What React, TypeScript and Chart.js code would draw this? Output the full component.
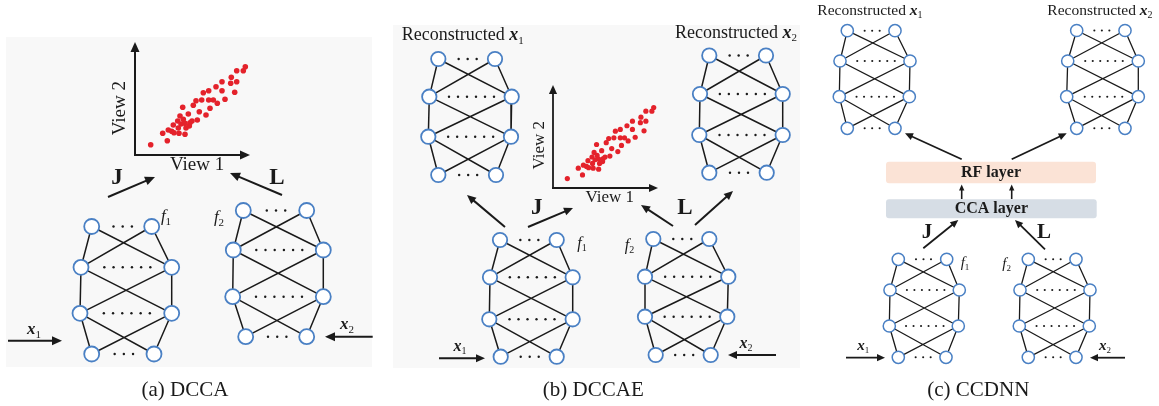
import { useEffect, useRef } from 'react';
import { Chart, registerables } from 'chart.js';

Chart.register(...registerables);

const W = 1159;
const H = 406;
const SERIF = '"Liberation Serif", "Times New Roman", Times, serif';
const INK = '#1a1a1a';
const NODE_BLUE = '#4a80c4';
const SAMPLE_RED = '#e4222b';

// Correlated samples plotted on the "View 1" / "View 2" axes
const viewOne = [15.7, 32.3, 27.7, 33.3, 36.7, 39, 44, 43.3, 38.3, 42.7, 45, 47.7, 48.3, 50, 51, 54.3, 55, 53.3, 57, 62.3, 64.3, 58.3, 61, 66.7, 68.3, 73.7, 73.7, 78.3, 75, 71, 81, 82.3, 87, 87, 90, 96.3, 95.7, 101.7, 99.7, 101.7, 108.3, 110.3, 50, 46];
const viewTwo = [10.3, 14.3, 21.7, 25, 23.7, 22.3, 21.7, 27, 30, 34, 39, 47.7, 35.7, 31.7, 27, 29, 32.3, 41, 34, 35, 43.3, 49.7, 54.3, 55, 62.3, 64.3, 55, 55, 46.7, 40, 68.3, 51.7, 73.3, 64.3, 55.7, 77.7, 71.7, 73.3, 62.7, 84.3, 84.3, 88.3, 20.7, 31];
const viewOneMax = 115;
const viewTwoMax = 113;

// Network layers, one row per layer: [left node x, right node x, layer y]
const dccaNet1 = [[91.7, 151.7, 226.5], [81, 171.7, 267.3], [80, 171.7, 313.3], [91.7, 154, 354]];
const dccaNet2 = [[243.3, 306.7, 210.5], [233.3, 323.3, 250], [232.7, 323.3, 296.7], [245.7, 306.7, 336.7]];
const dccaeRecon1 = [[438.3, 495, 59], [429.3, 511.7, 96.7], [428.3, 511, 136.7], [438.3, 496, 175]];
const dccaeRecon2 = [[709.3, 766, 55.5], [700, 782.7, 94], [699.3, 782.7, 135], [709.3, 766.7, 172.7]];
const dccaeNet1 = [[500, 556.7, 240], [490, 572.7, 277.3], [489.3, 572.7, 319.3], [500.7, 556.7, 356.7]];
const dccaeNet2 = [[653.3, 709.3, 239], [645, 728.3, 276.7], [645, 727.3, 316.7], [655.7, 710.7, 355]];
const ccdnnRecon1 = [[847.3, 895, 30.7], [840, 910, 61], [839.3, 909.3, 96.7], [847.3, 895, 128.3]];
const ccdnnRecon2 = [[1076.7, 1125, 30.5], [1067.7, 1138.3, 61], [1066.7, 1138.3, 96.7], [1076.7, 1125, 128.3]];
const ccdnnNet1 = [[898.3, 946.7, 259.3], [890, 959.3, 290], [889.3, 958.3, 326], [898.3, 946, 357.3]];
const ccdnnNet2 = [[1028.3, 1076, 259.3], [1020, 1090, 290], [1019.3, 1089.3, 326], [1028.3, 1076, 357.3]];

// [rows, node radius, ellipsis spacing, edge width]
const networks: [number[][], number, number, number][] = [
  [dccaNet1, 7.5, 9.2, 1.5],
  [dccaNet2, 7.5, 9.2, 1.5],
  [dccaeRecon1, 7.2, 9, 1.5],
  [dccaeRecon2, 7.2, 9, 1.5],
  [dccaeNet1, 7.2, 9, 1.5],
  [dccaeNet2, 7.2, 9, 1.5],
  [ccdnnRecon1, 6.1, 7.5, 1.3],
  [ccdnnRecon2, 6.1, 7.5, 1.3],
  [ccdnnNet1, 6.1, 7.5, 1.3],
  [ccdnnNet2, 6.1, 7.5, 1.3],
];

// [fromX, fromY, toX, toY, line width, head length]
const arrows = [
  [108, 197, 155, 177, 2, 10],
  [282, 195, 230, 173, 2, 10],
  [8, 340.7, 62, 340.7, 2, 10],
  [372.7, 336.7, 325, 336.7, 2, 10],
  [505, 227, 467, 195, 2, 9],
  [528, 227, 573, 208, 2, 9],
  [673, 226, 641, 205, 2, 9],
  [695, 225, 733, 191, 2, 9],
  [439, 358.3, 485, 358.3, 2, 9],
  [776, 355, 728, 355, 2, 9],
  [961.7, 159.3, 905, 133.3, 1.8, 8],
  [1011.7, 159.3, 1066.7, 133.3, 1.8, 8],
  [961.7, 199, 961.7, 184.5, 1.6, 6],
  [1011.7, 199, 1011.7, 184.5, 1.6, 6],
  [923.3, 248.3, 958.3, 220, 1.8, 8],
  [1045, 249.3, 1015, 220, 1.8, 8],
  [846, 357.7, 885, 357.7, 1.8, 8],
  [1125, 357.7, 1090, 357.7, 1.8, 8],
];

// Layer boxes: [left, top, right, bottom, fill, caption]
const layerBoxes: [number, number, number, number, string, string][] = [
  [886, 161.7, 1096, 183.3, '#fbe3d6', 'RF layer'],
  [886, 199.3, 1096.7, 218.3, '#d6dde5', 'CCA layer'],
];

// Light panel backdrops: [left, top, right, bottom]
const panelBacks = [
  [6, 37, 372, 367],
  [393, 25, 800, 368],
];

type Run = [string, string, number];
const font = (size: number, weight = 'normal', style = 'normal') => `${style} ${weight} ${size}px ${SERIF}`;
const plain = (t: string, size: number, weight = 'normal', style = 'normal'): Run[] => [[t, font(size, weight, style), 0]];
const sym = (base: string, idx: string, size: number, bold: boolean): Run[] => [
  [base, font(size, bold ? 'bold' : 'normal', 'italic'), 0],
  [idx, font(Math.round(size * 0.62)), size * 0.3],
];

const labels: { x: number; y: number; align: 'left' | 'center'; runs: Run[] }[] = [
  // (a)
  { x: 117, y: 178, align: 'center', runs: plain('J', 23, 'bold') },
  { x: 277, y: 178, align: 'center', runs: plain('L', 23, 'bold') },
  { x: 166, y: 217, align: 'center', runs: sym('f', '1', 17, false) },
  { x: 219, y: 218, align: 'center', runs: sym('f', '2', 17, false) },
  { x: 34, y: 330, align: 'center', runs: sym('x', '1', 17, true) },
  { x: 347, y: 325, align: 'center', runs: sym('x', '2', 17, true) },
  { x: 185, y: 390, align: 'center', runs: plain('(a) DCCA', 21) },
  // (b)
  { x: 401.7, y: 35.5, align: 'left', runs: [...plain('Reconstructed ', 18), ...sym('x', '1', 18, true)] },
  { x: 675, y: 33, align: 'left', runs: [...plain('Reconstructed ', 18), ...sym('x', '2', 18, true)] },
  { x: 536.7, y: 208.5, align: 'center', runs: plain('J', 23, 'bold') },
  { x: 685, y: 208.5, align: 'center', runs: plain('L', 23, 'bold') },
  { x: 582, y: 244, align: 'center', runs: sym('f', '1', 16, false) },
  { x: 629.5, y: 246, align: 'center', runs: sym('f', '2', 16, false) },
  { x: 460, y: 346.5, align: 'center', runs: sym('x', '1', 16, true) },
  { x: 746, y: 343.5, align: 'center', runs: sym('x', '2', 16, true) },
  { x: 593.3, y: 390, align: 'center', runs: plain('(b) DCCAE', 21) },
  // (c)
  { x: 817.3, y: 10.5, align: 'left', runs: [...plain('Reconstructed ', 15.5), ...sym('x', '1', 15.5, true)] },
  { x: 1047.3, y: 10.5, align: 'left', runs: [...plain('Reconstructed ', 15.5), ...sym('x', '2', 15.5, true)] },
  { x: 927, y: 232.5, align: 'center', runs: plain('J', 21, 'bold') },
  { x: 1044, y: 232.5, align: 'center', runs: plain('L', 21, 'bold') },
  { x: 965, y: 263.5, align: 'center', runs: sym('f', '1', 15, false) },
  { x: 1006.7, y: 264.5, align: 'center', runs: sym('f', '2', 15, false) },
  { x: 863.3, y: 346.5, align: 'center', runs: sym('x', '1', 15, true) },
  { x: 1105, y: 346.5, align: 'center', runs: sym('x', '2', 15, true) },
  { x: 978.3, y: 390, align: 'center', runs: plain('(c) CCDNN', 21) },
];

function drawRuns(ctx: CanvasRenderingContext2D, runs: Run[], x: number, y: number, align: 'left' | 'center') {
  let total = 0;
  for (const [t, f] of runs) {
    ctx.font = f;
    total += ctx.measureText(t).width;
  }
  let cx = align === 'center' ? x - total / 2 : x;
  ctx.textBaseline = 'middle';
  ctx.textAlign = 'left';
  for (const [t, f, dy] of runs) {
    ctx.font = f;
    ctx.fillText(t, cx, y + dy);
    cx += ctx.measureText(t).width;
  }
}

function drawArrow(ctx: CanvasRenderingContext2D, x1: number, y1: number, x2: number, y2: number, lw: number, head: number) {
  const a = Math.atan2(y2 - y1, x2 - x1);
  const half = head * 0.45;
  ctx.strokeStyle = INK;
  ctx.fillStyle = INK;
  ctx.lineWidth = lw;
  ctx.lineCap = 'butt';
  ctx.beginPath();
  ctx.moveTo(x1, y1);
  ctx.lineTo(x2 - Math.cos(a) * head * 0.8, y2 - Math.sin(a) * head * 0.8);
  ctx.stroke();
  ctx.beginPath();
  ctx.moveTo(x2, y2);
  ctx.lineTo(x2 - Math.cos(a) * head - Math.sin(a) * half, y2 - Math.sin(a) * head + Math.cos(a) * half);
  ctx.lineTo(x2 - Math.cos(a) * head + Math.sin(a) * half, y2 - Math.sin(a) * head - Math.cos(a) * half);
  ctx.closePath();
  ctx.fill();
}

function edgesOf(rows: number[][]) {
  const pts: { x: number; y: number | null }[] = [];
  const seg = (ax: number, ay: number, bx: number, by: number) => {
    pts.push({ x: ax, y: ay }, { x: bx, y: by }, { x: bx, y: null });
  };
  for (let i = 0; i < rows.length - 1; i++) {
    const [l0, r0, y0] = rows[i];
    const [l1, r1, y1] = rows[i + 1];
    seg(l0, y0, l1, y1);
    seg(r0, y0, r1, y1);
    seg(l0, y0, r1, y1);
    seg(r0, y0, l1, y1);
  }
  return pts;
}

function nodesOf(rows: number[][]) {
  return rows.flatMap(([l, r, y]) => [{ x: l, y }, { x: r, y }]);
}

function ellipsesOf(rows: number[][], gap: number) {
  const pts: { x: number; y: number }[] = [];
  rows.forEach(([l, r, y], i) => {
    const n = i === 0 || i === rows.length - 1 ? 3 : 6;
    const mid = (l + r) / 2 + 1;
    for (let k = 0; k < n; k++) pts.push({ x: mid + (k - (n - 1) / 2) * gap, y });
  });
  return pts;
}

const diagramPlugin = {
  id: 'diagram',
  beforeDatasetsDraw(chart: any) {
    const { ctx } = chart;
    const X = (v: number) => chart.scales.x.getPixelForValue(v);
    const Y = (v: number) => chart.scales.y.getPixelForValue(v);
    ctx.save();
    ctx.fillStyle = '#f8f8f8';
    for (const [l, t, r, b] of panelBacks) ctx.fillRect(X(l), Y(t), X(r) - X(l), Y(b) - Y(t));
    for (const [l, t, r, b, fill, text] of layerBoxes) {
      ctx.fillStyle = fill;
      ctx.beginPath();
      ctx.roundRect(X(l), Y(t), X(r) - X(l), Y(b) - Y(t), 3);
      ctx.fill();
      ctx.fillStyle = INK;
      drawRuns(ctx, plain(text, 16, 'bold'), (X(l) + X(r)) / 2, (Y(t) + Y(b)) / 2 + 0.5, 'center');
    }
    ctx.restore();
  },
  afterDatasetsDraw(chart: any) {
    const { ctx } = chart;
    const X = (v: number) => chart.scales.x.getPixelForValue(v);
    const Y = (v: number) => chart.scales.y.getPixelForValue(v);
    ctx.save();
    for (const [x1, y1, x2, y2, lw, head] of arrows) drawArrow(ctx, X(x1), Y(y1), X(x2), Y(y2), lw, head);
    ctx.fillStyle = INK;
    for (const l of labels) drawRuns(ctx, l.runs, X(l.x), Y(l.y), l.align);
    ctx.restore();
  },
};

function makeDiagram(canvas: HTMLCanvasElement) {
  const datasets: any[] = [];
  for (const [rows, r, gap, lw] of networks) {
    datasets.push({
      data: edgesOf(rows),
      showLine: true,
      spanGaps: false,
      borderColor: INK,
      borderWidth: lw,
      pointRadius: 0,
      pointHoverRadius: 0,
      order: 2,
    });
    datasets.push({
      data: ellipsesOf(rows, gap),
      pointRadius: r > 7 ? 1.2 : 1.05,
      pointBorderWidth: 0,
      pointBackgroundColor: INK,
      pointBorderColor: INK,
      order: 1,
    });
    datasets.push({
      data: nodesOf(rows),
      pointRadius: r,
      pointBorderWidth: r > 7 ? 1.8 : 1.5,
      pointBackgroundColor: '#ffffff',
      pointBorderColor: NODE_BLUE,
      order: 0,
    });
  }
  return new Chart(canvas, {
    type: 'scatter',
    data: { datasets },
    options: {
      responsive: false,
      animation: false,
      events: [],
      layout: { padding: 0, autoPadding: false },
      plugins: { legend: { display: false }, tooltip: { enabled: false } },
      scales: {
        x: { type: 'linear', min: 0, max: W, display: false },
        y: { type: 'linear', min: 0, max: H, reverse: true, display: false },
      },
    } as any,
    plugins: [diagramPlugin],
  });
}

const viewAxesPlugin = {
  id: 'viewAxes',
  beforeDatasetsDraw(chart: any, _args: any, opts: any) {
    const { ctx, chartArea: a } = chart;
    const w = a.right - a.left;
    const h = a.bottom - a.top;
    ctx.save();
    drawArrow(ctx, a.left, a.bottom + opts.lineWidth / 2, a.left, a.top, opts.lineWidth, opts.head);
    drawArrow(ctx, a.left - opts.lineWidth / 2, a.bottom, a.right, a.bottom, opts.lineWidth, opts.head);
    ctx.fillStyle = INK;
    drawRuns(ctx, plain('View 1', opts.fontSize), a.left + 0.54 * w, a.bottom + 0.088 * h, 'center');
    ctx.translate(a.left - 0.13 * w, a.top + 0.585 * h);
    ctx.rotate(-Math.PI / 2);
    drawRuns(ctx, plain('View 2', opts.fontSize), 0, 0, 'center');
    ctx.restore();
  },
};

function makeViewPlot(canvas: HTMLCanvasElement, padding: any, radius: number, fontSize: number, lineWidth: number, head: number) {
  return new Chart(canvas, {
    type: 'scatter',
    data: {
      datasets: [
        {
          data: viewOne.map((v, i) => ({ x: v, y: viewTwo[i] })),
          pointRadius: radius,
          pointBorderWidth: 0,
          pointBackgroundColor: SAMPLE_RED,
          pointBorderColor: SAMPLE_RED,
          clip: false,
        },
      ],
    },
    options: {
      responsive: false,
      animation: false,
      events: [],
      layout: { padding, autoPadding: false },
      plugins: {
        legend: { display: false },
        tooltip: { enabled: false },
        viewAxes: { fontSize, lineWidth, head },
      },
      scales: {
        x: { type: 'linear', min: 0, max: viewOneMax, display: false },
        y: { type: 'linear', min: 0, max: viewTwoMax, display: false },
      },
    } as any,
    plugins: [viewAxesPlugin],
  });
}

export default function App() {
  const bgRef = useRef<HTMLCanvasElement>(null);
  const aRef = useRef<HTMLCanvasElement>(null);
  const bRef = useRef<HTMLCanvasElement>(null);

  useEffect(() => {
    const charts = [
      makeDiagram(bgRef.current!),
      makeViewPlot(aRef.current!, { left: 28, top: 6, right: 8, bottom: 22 }, 2.8, 19, 2, 10),
      makeViewPlot(bRef.current!, { left: 26, top: 6, right: 8, bottom: 20 }, 2.6, 17, 1.8, 9),
    ];
    return () => charts.forEach((c) => c.destroy());
  }, []);

  return (
    <div style={{ position: 'fixed', left: 0, top: 0, width: W, height: H, background: '#ffffff', overflow: 'hidden' }}>
      <canvas ref={bgRef} width={W} height={H} style={{ position: 'absolute', left: 0, top: 0 }} />
      <canvas ref={aRef} width={151} height={141} style={{ position: 'absolute', left: 107, top: 36 }} />
      <canvas ref={bRef} width={139} height={129} style={{ position: 'absolute', left: 527, top: 79 }} />
    </div>
  );
}
